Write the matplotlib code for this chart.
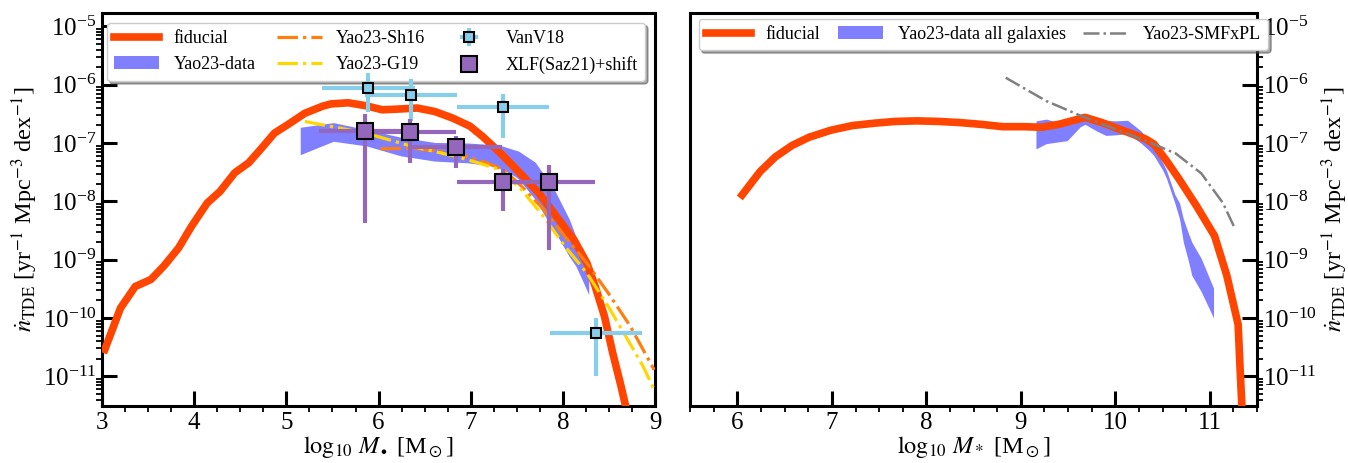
import matplotlib
matplotlib.use('Agg')
import matplotlib.pyplot as plt
from matplotlib.ticker import FixedLocator, LogFormatterSciNotation, MultipleLocator, NullFormatter
import numpy as np

plt.rcParams['font.family'] = ['Liberation Serif', 'DejaVu Serif']
plt.rcParams['mathtext.fontset'] = 'stix'

# ---- left panel: BH mass function of TDE rate (log10 values)
fid_bh_x = [3.03, 3.2, 3.36, 3.53, 3.67, 3.83, 3.97, 4.14, 4.28, 4.44, 4.59, 4.73, 4.87,
            5.01, 5.2, 5.39, 5.48, 5.67, 5.86, 6.04, 6.19, 6.42, 6.61, 6.8, 6.99, 7.13,
            7.32, 7.5, 7.74, 7.93, 8.12, 8.26, 8.35, 8.45, 8.54, 8.63, 8.68]
fid_bh_y = [-10.54, -9.83, -9.46, -9.34, -9.11, -8.8, -8.43, -8.03, -7.83, -7.51, -7.34,
            -7.09, -6.83, -6.69, -6.49, -6.37, -6.33, -6.31, -6.36, -6.43, -6.42, -6.40,
            -6.46, -6.57, -6.71, -6.89, -7.17, -7.46, -7.86, -8.26, -8.66, -9.06, -9.46,
            -9.97, -10.6, -11.17, -11.51]

yao_bh_x = [5.15, 5.51, 5.87, 6.24, 6.61, 6.97, 7.26, 7.34, 7.48, 7.52, 7.7, 7.88, 7.92,
            8.07, 8.14, 8.21, 8.28]
yao_bh_hi = [-6.73, -6.65, -6.77, -6.9, -6.99, -7.0, -7.03, -7.05, -7.12, -7.14, -7.33,
             -7.74, -7.84, -8.31, -8.6, -8.94, -9.3]
yao_bh_lo = [-7.2, -6.97, -7.05, -7.22, -7.31, -7.34, -7.4, -7.45, -7.57, -7.62, -7.97,
             -8.45, -8.54, -8.95, -9.11, -9.35, -9.6]

g19_x = [5.2, 5.86, 6.37, 6.84, 7.08, 7.32, 7.55, 7.79, 8.02, 8.26, 8.49, 8.68, 8.87, 8.99]
g19_y = [-6.63, -6.83, -7.06, -7.23, -7.34, -7.46, -7.8, -8.26, -8.77, -9.23, -9.8,
         -10.31, -10.83, -11.23]
sh16_x = [6.02, 6.37, 6.84, 7.17, 7.36, 7.55, 7.79, 8.02, 8.26, 8.49, 8.73, 8.99]
sh16_y = [-7.1, -7.09, -7.17, -7.34, -7.46, -7.74, -8.14, -8.6, -9.06, -9.57, -10.14,
          -10.89]

vanv_x = [5.89, 6.35, 7.35, 8.36]
vanv_y = [-6.06, -6.17, -6.38, -10.26]
vanv_yup = [-5.8, -5.91, -6.16, -10.0]
vanv_ylo = [-6.46, -6.63, -6.91, -10.99]
vanv_xerr = 0.5

xlf_x = [5.85, 6.34, 6.84, 7.35, 7.85]
xlf_y = [-6.8, -6.81, -7.07, -7.66, -7.66]
xlf_yup = [-6.51, -6.58, -6.88, -7.45, -7.38]
xlf_ylo = [-8.37, -7.34, -7.42, -8.17, -8.83]
xlf_xerr = 0.5

# ---- right panel: stellar mass function of TDE rate
fid_st_x = [6.05, 6.24, 6.4, 6.58, 6.76, 6.99, 7.22, 7.45, 7.67, 7.9, 8.13, 8.36, 8.58,
            8.81, 9.04, 9.22, 9.4, 9.68, 9.86, 10.09, 10.32, 10.41, 10.54, 10.68, 10.86,
            11.05, 11.18, 11.3, 11.32, 11.34]
fid_st_y = [-7.89, -7.49, -7.24, -7.04, -6.9, -6.78, -6.7, -6.66, -6.63, -6.62, -6.63,
            -6.65, -6.68, -6.72, -6.72, -6.73, -6.68, -6.56, -6.65, -6.79, -6.93, -7.02,
            -7.3, -7.63, -8.08, -8.59, -9.27, -10.11, -10.84, -11.52]

yao_st_x = [9.16, 9.27, 9.4, 9.49, 9.63, 9.68, 9.81, 9.9, 10.0, 10.13, 10.27, 10.36, 10.41,
            10.5, 10.54, 10.63, 10.68, 10.72, 10.77, 10.81, 10.91, 11.04]
yao_st_hi = [-6.62, -6.59, -6.65, -6.6, -6.51, -6.52, -6.59, -6.61, -6.62, -6.61, -6.79,
             -6.95, -7.07, -7.33, -7.46, -7.88, -8.03, -8.3, -8.53, -8.7, -8.98, -9.49]
yao_st_lo = [-7.1, -7.01, -6.98, -6.96, -6.72, -6.68, -6.8, -6.87, -6.86, -6.84, -7.0,
             -7.13, -7.22, -7.46, -7.6, -8.03, -8.3, -8.7, -9.0, -9.27, -9.55, -10.0]

smf_x = [8.84, 9.27, 9.63, 9.95, 10.32, 10.64, 10.91, 11.14, 11.27]
smf_y = [-5.88, -6.28, -6.53, -6.73, -6.96, -7.18, -7.52, -8.03, -8.48]

ylim = (10**-11.51, 10**-4.77)
ylabel = r'$\dot{n}_{\rm TDE}$ [yr$^{-1}$ Mpc$^{-3}$ dex$^{-1}$]'
fid_col = '#ff4500'
major_y = [10.0**e for e in range(-11, -4)]
minor_y = [m * 10.0**e for e in range(-12, -4) for m in range(2, 10)
           if ylim[0] <= m * 10.0**e <= ylim[1]]


def p(v):
    return 10**np.asarray(v, dtype=float)


def style(ax, right=False):
    ax.set_yscale('log')
    ax.set_ylim(*ylim)
    ax.xaxis.set_major_locator(MultipleLocator(1))
    ax.xaxis.set_minor_locator(MultipleLocator(0.25))
    ax.yaxis.set_major_locator(FixedLocator(major_y))
    ax.yaxis.set_major_formatter(LogFormatterSciNotation())
    ax.yaxis.set_minor_locator(FixedLocator(minor_y))
    ax.yaxis.set_minor_formatter(NullFormatter())
    ax.tick_params(which='major', direction='in', length=11, width=2.2, labelsize=18, pad=4)
    ax.tick_params(which='minor', direction='out', length=4, width=1.3)
    if right:
        ax.yaxis.tick_right()
        ax.yaxis.set_label_position('right')
    for s in ax.spines.values():
        s.set_linewidth(2.2)


fig = plt.figure(figsize=(13.48, 4.63), dpi=100)
ax1 = fig.add_axes([0.0757, 0.123, 0.4103, 0.849])
ax2 = fig.add_axes([0.512, 0.123, 0.4205, 0.849])

# left
ax1.plot(fid_bh_x, p(fid_bh_y), color=fid_col, lw=5.5, label='fiducial', zorder=4)
ax1.fill_between(yao_bh_x, p(yao_bh_lo), p(yao_bh_hi), color='blue', alpha=0.5, lw=0,
                 label='Yao23-data', zorder=2)
ax1.plot(sh16_x, p(sh16_y), color='#ff7f0e', ls='-.', lw=2.3, label='Yao23-Sh16', zorder=5)
ax1.plot(g19_x, p(g19_y), color='gold', ls='-.', lw=2.3, label='Yao23-G19', zorder=5)
vy = p(vanv_y)
ax1.errorbar(vanv_x, vy, xerr=vanv_xerr,
             yerr=[vy - p(vanv_ylo), p(vanv_yup) - vy], fmt='s', color='skyblue',
             mec='k', mew=1.5, ms=7, elinewidth=3, capsize=0, label='VanV18', zorder=6)
qy = p(xlf_y)
ax1.errorbar(xlf_x, qy, xerr=xlf_xerr,
             yerr=[qy - p(xlf_ylo), p(xlf_yup) - qy], fmt='s', color='#9467bd',
             mec='k', mew=1.5, ms=11, elinewidth=3, capsize=0, label='XLF(Saz21)+shift', zorder=6)
ax1.set_xlim(3, 9)
style(ax1)
ax1.set_xlabel(r'$\log_{10}\, M_\bullet$ [M$_\odot$]', fontsize=17.5, labelpad=0)
ax1.set_ylabel(ylabel, fontsize=17.5, labelpad=2)
ax1.legend(loc='upper left', bbox_to_anchor=(0.009, 0, 0.973, 0.975), mode='expand',
           ncol=3, fontsize=13, fancybox=True, shadow=True, handlelength=2.5,
           borderaxespad=0)

# right
ax2.plot(fid_st_x, p(fid_st_y), color=fid_col, lw=5.5, label='fiducial', zorder=4)
ax2.fill_between(yao_st_x, p(yao_st_lo), p(yao_st_hi), color='blue', alpha=0.5, lw=0,
                 label='Yao23-data all galaxies', zorder=2)
ax2.plot(smf_x, p(smf_y), color='grey', ls='-.', lw=1.8, label='Yao23-SMFxPL', zorder=5)
ax2.set_xlim(5.5, 11.5)
style(ax2, right=True)
ax2.set_xlabel(r'$\log_{10}\, M_*$ [M$_\odot$]', fontsize=17.5, labelpad=0)
ax2.set_ylabel(ylabel, fontsize=17.5, labelpad=2)
ax2.legend(loc='upper left', bbox_to_anchor=(0.015, 0, 1.005, 0.985), mode='expand',
           ncol=3, fontsize=13, fancybox=True, shadow=True, handlelength=2.5,
           borderaxespad=0)

fig.savefig('out.png', dpi=100)
plt.close()
